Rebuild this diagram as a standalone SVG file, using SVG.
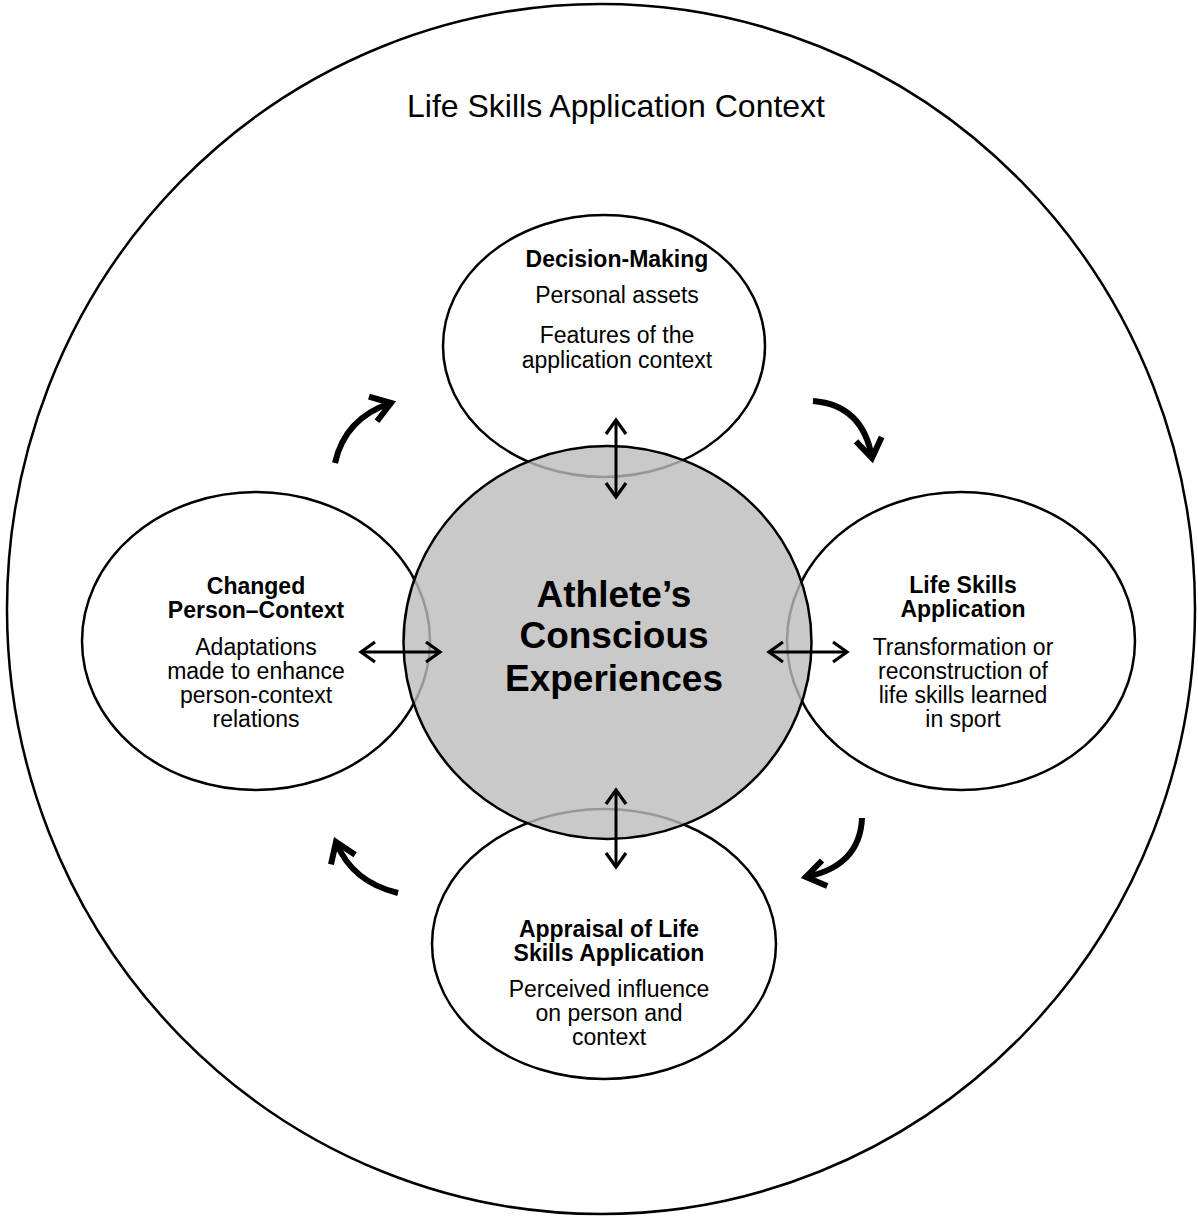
<svg xmlns="http://www.w3.org/2000/svg" width="1198" height="1218" viewBox="0 0 1198 1218">
<style>
.ring{fill:#fff;stroke:#000;stroke-width:2.5}
.core{fill:#bcbcbc;fill-opacity:0.8;stroke:#000;stroke-width:2.5}
text{font-family:"Liberation Sans",Arial,sans-serif;fill:#000;text-anchor:middle}
.t{font-size:23px;font-weight:bold}
.b{font-size:23px}
.c{font-size:37px;font-weight:bold}
.h{font-size:32px}
.da{fill:none;stroke:#000;stroke-width:3;marker-start:url(#thin);marker-end:url(#thin)}
.cv{fill:none;stroke:#000;stroke-width:6;marker-end:url(#thick)}
</style>
<defs>
<marker id="thin" markerUnits="userSpaceOnUse" viewBox="-20 -16 24 32" markerWidth="24" markerHeight="32" refX="0" refY="0" orient="auto-start-reverse" overflow="visible">
<path d="M-14,-10 L0,0 L-14,10" fill="none" stroke="#000" stroke-width="3.2" stroke-linejoin="miter"/>
</marker>
<marker id="thick" markerUnits="userSpaceOnUse" viewBox="-30 -22 36 44" markerWidth="36" markerHeight="44" refX="0" refY="0" orient="auto" overflow="visible">
<path d="M-19,-13 L0,0 L-19,13" fill="none" stroke="#000" stroke-width="6" stroke-linejoin="miter"/>
</marker>
</defs>
<g id="context">
<ellipse class="ring" cx="601" cy="609" rx="594" ry="605"/>
<text class="h" x="616" y="117">Life Skills Application Context</text>
</g>
<g id="decision-making">
<ellipse class="ring" cx="604" cy="346" rx="161" ry="131"/>
<text class="t" x="617" y="267">Decision-Making</text>
<text class="b" x="617" y="303">Personal assets</text>
<text class="b" x="617" y="343">Features of the</text>
<text class="b" x="617" y="368">application context</text>
</g>
<g id="life-skills-application">
<ellipse class="ring" cx="961" cy="641" rx="174" ry="149"/>
<text class="t" x="963" y="593">Life Skills</text>
<text class="t" x="963" y="617">Application</text>
<text class="b" x="963" y="655">Transformation or</text>
<text class="b" x="963" y="679">reconstruction of</text>
<text class="b" x="963" y="703">life skills learned</text>
<text class="b" x="963" y="727">in sport</text>
</g>
<g id="appraisal">
<ellipse class="ring" cx="604" cy="944" rx="172" ry="135"/>
<text class="t" x="609" y="937">Appraisal of Life</text>
<text class="t" x="609" y="961">Skills Application</text>
<text class="b" x="609" y="997">Perceived influence</text>
<text class="b" x="609" y="1021">on person and</text>
<text class="b" x="609" y="1045">context</text>
</g>
<g id="changed-person-context">
<ellipse class="ring" cx="256" cy="641" rx="174" ry="149"/>
<text class="t" x="256" y="594">Changed</text>
<text class="t" x="256" y="618">Person–Context</text>
<text class="b" x="256" y="655">Adaptations</text>
<text class="b" x="256" y="679">made to enhance</text>
<text class="b" x="256" y="703">person-context</text>
<text class="b" x="256" y="727">relations</text>
</g>
<g id="athlete">
<ellipse class="core" cx="607.5" cy="642.5" rx="204" ry="196.5"/>
<text class="c" x="614" y="607">Athlete’s</text>
<text class="c" x="614" y="648">Conscious</text>
<text class="c" x="614" y="691">Experiences</text>
</g>
<g id="connectors">
<line class="da" x1="616" y1="420" x2="616" y2="497"/>
<line class="da" x1="616" y1="790" x2="616" y2="867"/>
<line class="da" x1="361" y1="652" x2="440" y2="652"/>
<line class="da" x1="769" y1="652" x2="847" y2="652"/>
<path class="cv" d="M335,463 Q345,418 391,403"/>
<path class="cv" d="M813,401 Q863,405 872,458"/>
<path class="cv" d="M862,818 Q860,866 806,877"/>
<path class="cv" d="M398,893 Q352,882 336,842"/>
</g>
</svg>
